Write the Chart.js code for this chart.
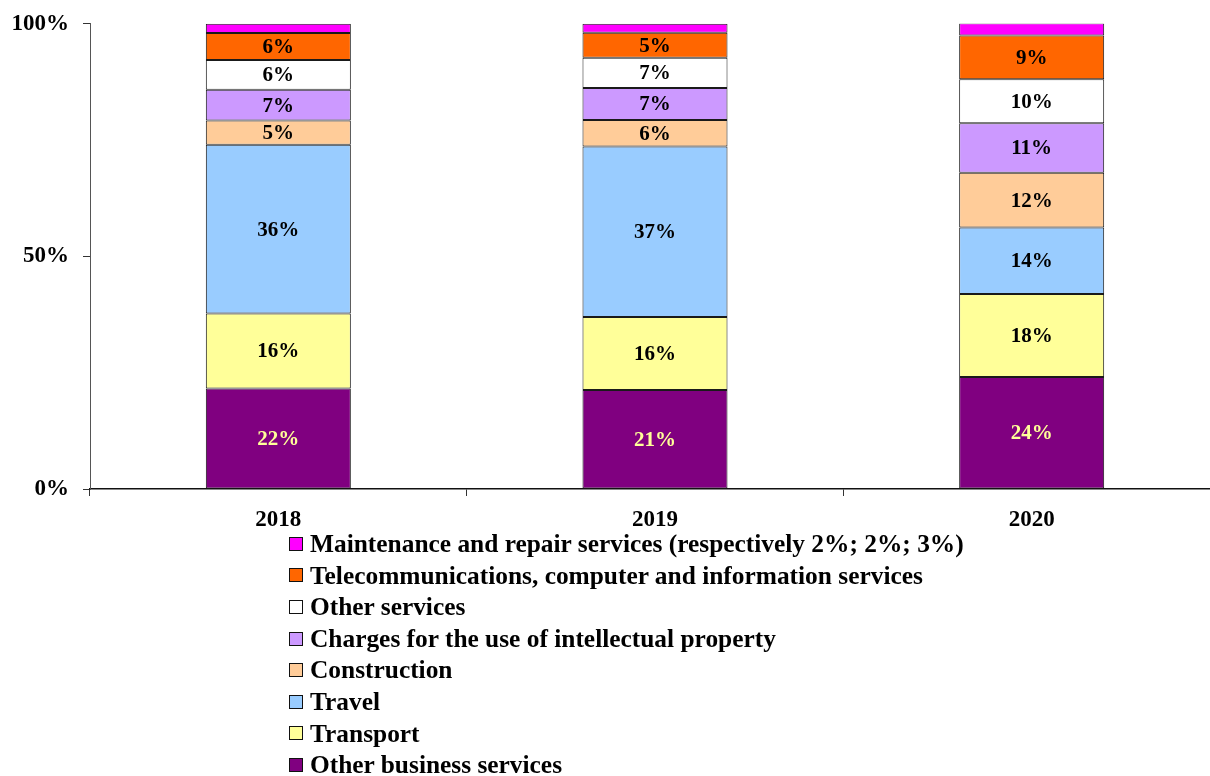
<!DOCTYPE html>
<html>
<head>
<meta charset="utf-8">
<script src="https://cdn.jsdelivr.net/npm/chart.js@4"></script>
<style>
  html, body { margin: 0; padding: 0; background: #fff; overflow: hidden; }
  #wrap { position: absolute; left: 0; top: -4px; width: 1220px; height: 534px; }
  #legend { position: absolute; left: 289px; top: 528px; font: bold 25.4px "Liberation Serif", "Times New Roman", serif; color: #000; }
  #legend .row { height: 31.6px; line-height: 31.6px; white-space: nowrap; display: flex; align-items: center; }
  #legend .box { width: 12px; height: 12px; border: 1px solid #111; margin-right: 7px; flex: none; }
</style>
</head>
<body>
<div id="wrap"><canvas id="chart"></canvas></div>
<div id="legend"></div>
<script>
// Shares of services (%)
const years         = ['2018', '2019', '2020'];
const otherBusiness = [21.6, 21.3, 24.1];
const transport     = [16.1, 15.7, 17.8];
const travel        = [36.3, 36.6, 14.3];
const construction  = [5.2, 5.7, 11.8];
const intellectual  = [6.6, 6.9, 10.6];
const otherServices = [6.4, 6.5, 9.5];
const telecom       = [5.8, 5.4, 9.4];
const maintenance   = [2.0, 1.9, 2.6];
const yTicks        = [0, 50, 100];

const SERIF = '"Liberation Serif", "Times New Roman", serif';

const series = [
  { label: 'Other business services', data: otherBusiness, color: '#800080', text: '#FFFF99' },
  { label: 'Transport', data: transport, color: '#FFFF99' },
  { label: 'Travel', data: travel, color: '#99CCFF' },
  { label: 'Construction', data: construction, color: '#FFCC99' },
  { label: 'Charges for the use of intellectual property', data: intellectual, color: '#CC99FF' },
  { label: 'Other services', data: otherServices, color: '#FFFFFF' },
  { label: 'Telecommunications, computer and information services', data: telecom, color: '#FF6600' },
  { label: 'Maintenance and repair services (respectively 2%; 2%; 3%)', data: maintenance, color: '#FF00FF', noLabel: true },
];

// Percent labels centred inside each segment
const segmentLabels = {
  id: 'segmentLabels',
  afterDatasetsDraw(chart) {
    const ctx = chart.ctx;
    ctx.save();
    ctx.font = 'bold 21px ' + SERIF;
    ctx.textAlign = 'center';
    ctx.textBaseline = 'middle';
    chart.data.datasets.forEach((ds, i) => {
      if (ds.noLabel) return;
      const meta = chart.getDatasetMeta(i);
      meta.data.forEach((bar, j) => {
        ctx.fillStyle = ds.textColor || '#000';
        ctx.fillText(Math.round(ds.data[j]) + '%', bar.x, (bar.y + bar.base) / 2 + 1);
      });
    });
    ctx.restore();
  }
};

const chart = new Chart(document.getElementById('chart'), {
  type: 'bar',
  data: {
    labels: years,
    datasets: series.map(s => ({
      label:              s.label,
      data:               s.data,
      backgroundColor:    s.color,
      borderColor:        '#1a1a1a',
      borderWidth:        1,
      borderSkipped:      false,
      categoryPercentage: 1,
      barPercentage:      0.385,
      textColor:          s.text,
      noLabel:            s.noLabel,
    })),
  },
  options: {
    responsive:          true,
    maintainAspectRatio: false,
    animation:           false,
    layout: { padding: { top: 20, right: 0, bottom: 0, left: 0 } },
    plugins: {
      legend:  { display: false },
      tooltip: { enabled: false },
    },
    scales: {
      x: {
        stacked: true,
        offset:  true,
        afterFit: scale => { scale.height = 41; },
        grid:   { display: true, offset: true, drawOnChartArea: false, tickLength: 7, color: '#333' },
        border: { display: true, color: '#111', width: 1.5 },
        ticks:  { color: '#000', padding: 10, font: { family: SERIF, size: 23, weight: 'bold' } },
      },
      y: {
        stacked: true,
        min: 0,
        max: 100,
        afterFit: scale => { scale.width = 90; },
        afterBuildTicks: scale => { scale.ticks = yTicks.map(v => ({ value: v })); },
        grid:   { display: true, drawOnChartArea: false, tickLength: 7, color: '#333' },
        border: { display: true, color: '#555', width: 1 },
        ticks:  {
          color:    '#000',
          padding:  14,
          font:     { family: SERIF, size: 23, weight: 'bold' },
          callback: v => v + '%',
        },
      },
    },
  },
  plugins: [segmentLabels],
});

// Vertical legend under the chart, top item = top segment
const legendEl = document.getElementById('legend');
chart.data.datasets.slice().reverse().forEach(ds => {
  const row = document.createElement('div');
  row.className = 'row';
  const box = document.createElement('span');
  box.className = 'box';
  box.style.background = ds.backgroundColor;
  const txt = document.createElement('span');
  txt.textContent = ds.label;
  row.appendChild(box);
  row.appendChild(txt);
  legendEl.appendChild(row);
});
</script>
</body>
</html>
